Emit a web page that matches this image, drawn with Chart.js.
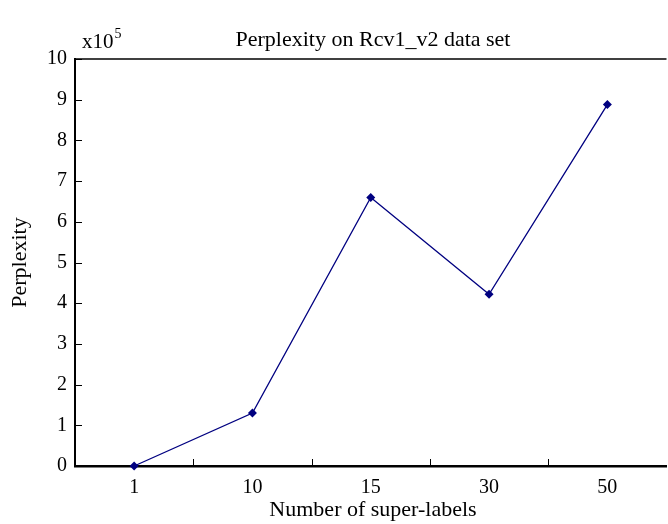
<!DOCTYPE html>
<html>
<head>
<meta charset="utf-8">
<script src="https://cdn.jsdelivr.net/npm/chart.js@4"></script>
<style>
  html, body { margin: 0; padding: 0; background: #fff; overflow: hidden; }
  #wrap { width: 671px; height: 524px; }
</style>
</head>
<body>
<div id="wrap"><canvas id="chart" width="671" height="524"></canvas></div>
<script>
// chart data
const superLabels = ["1", "10", "15", "30", "50"]
const perplexity = [0.0, 1.3, 6.6, 4.22, 8.88]   // x10^5
const yTicks = [0, 1, 2, 3, 4, 5, 6, 7, 8, 9, 10]

const serif = "'Liberation Serif', 'Times New Roman', serif"

// draws the matlab-ish frame, inward ticks and the titles
const matlabFrame = {
    id: "matlabFrame",
    afterDraw(chart) {
        const ctx = chart.ctx
        const area = chart.chartArea
        const xs = chart.scales.x
        const ys = chart.scales.y
        ctx.save()
        ctx.strokeStyle = "#000"

        // top border
        ctx.lineWidth = 1.5
        ctx.beginPath()
        ctx.moveTo(area.left, area.top)
        ctx.lineTo(area.right, area.top)
        ctx.stroke()

        // inward y ticks
        ctx.lineWidth = 1
        ys.ticks.forEach(t => {
            const y = Math.round(ys.getPixelForValue(t.value)) + 0.5
            ctx.beginPath()
            ctx.moveTo(area.left, y)
            ctx.lineTo(area.left + 7, y)
            ctx.stroke()
        })

        // inward x ticks between categories
        for (let i = 0; i < superLabels.length - 1; i++) {
            const x = Math.round((xs.getPixelForTick(i) + xs.getPixelForTick(i + 1)) / 2) + 0.5
            ctx.beginPath()
            ctx.moveTo(x, area.bottom)
            ctx.lineTo(x, area.bottom - 7)
            ctx.stroke()
        }

        // texts
        ctx.fillStyle = "#000"
        ctx.font = "22px " + serif
        ctx.textAlign = "center"
        ctx.textBaseline = "alphabetic"
        ctx.fillText("Perplexity on Rcv1_v2 data set", (area.left + 671) / 2, 46)

        ctx.fillText("Number of super-labels", (area.left + 671) / 2, 516)

        ctx.save()
        ctx.translate(26, (area.top + area.bottom) / 2)
        ctx.rotate(-Math.PI / 2)
        ctx.fillText("Perplexity", 0, 0)
        ctx.restore()

        ctx.textAlign = "left"
        ctx.font = "21px " + serif
        ctx.fillText("x10", 82, 48)
        const w = ctx.measureText("x10").width
        ctx.font = "14px " + serif
        ctx.fillText("5", 82 + w + 1, 38)

        ctx.restore()
    }
}

const ctx = document.getElementById("chart").getContext("2d")

new Chart(ctx, {
    type: "line",
    data: {
        labels: superLabels,
        datasets: [
            {
                label: "Perplexity",
                data: perplexity,
                borderColor: "#000080",
                backgroundColor: "#000080",
                borderWidth: 1.3,
                pointStyle: "rectRot",
                pointRadius: 4.5,
                pointBorderWidth: 0,
                tension: 0,
                clip: false,
            },
        ],
    },
    plugins: [matlabFrame],
    options: {
        responsive: false,
        animation: false,
        devicePixelRatio: 1,
        layout: { padding: { top: 59, right: 0, bottom: 0, left: 0 } },
        plugins: {
            legend: { display: false },
            title: { display: false },
            tooltip: { enabled: false },
        },
        scales: {
            x: {
                type: "category",
                offset: true,
                grid: { display: false, drawTicks: false },
                border: { display: true, color: "#000", width: 2.5 },
                ticks: {
                    color: "#000",
                    font: { family: serif, size: 20 },
                    padding: 10,
                    maxRotation: 0,
                },
                afterFit(scale) { scale.height = 58 },
            },
            y: {
                min: 0,
                max: 10,
                afterBuildTicks(scale) {
                    scale.ticks = yTicks.map(v => ({ value: v }))
                },
                grid: { display: false, drawTicks: false },
                border: { display: true, color: "#000", width: 2 },
                ticks: {
                    color: "#000",
                    font: { family: serif, size: 20 },
                    padding: 8,
                },
                afterFit(scale) { scale.width = 75 },
            },
        },
    },
})
</script>
</body>
</html>
